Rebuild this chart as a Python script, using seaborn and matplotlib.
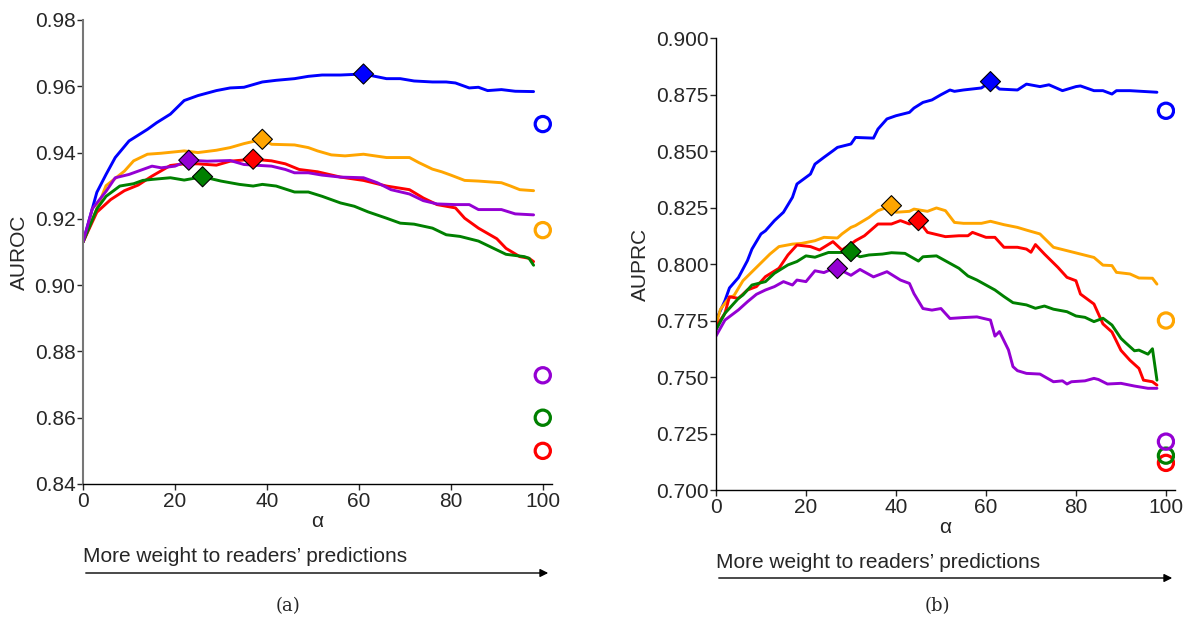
import matplotlib
matplotlib.use("Agg")
import matplotlib.pyplot as plt
import seaborn as sns
import pandas as pd

# ---------------- data: panel (a) AUROC ----------------
blue_a_x = [0,3,5,7,10,14,16,19,22,25,29,32,35,39,42,46,49,52,56,61,66,69,72,76,79,81,84,86,88,91,94,98]
blue_a_y = [0.913,0.928,0.9334,0.9385,0.9435,0.947,0.949,0.9516,0.9557,0.9572,0.9587,0.9595,0.9597,0.9613,0.9618,0.9623,0.963,0.9634,0.9634,0.9637,0.9623,0.9623,0.9616,0.9613,0.9613,0.961,0.9595,0.9597,0.9587,0.959,0.9585,0.9584]
orange_a_x = [0,3,5,9,11,14,17,22,25,29,32,35,39,41,46,49,51,54,57,61,66,71,73,76,78,80,83,86,91,93,95,98]
orange_a_y = [0.913,0.923,0.930,0.9344,0.9375,0.9395,0.9398,0.9405,0.940,0.9407,0.9415,0.9427,0.944,0.9425,0.9423,0.9415,0.9405,0.9393,0.939,0.9395,0.9385,0.9385,0.937,0.935,0.9342,0.9332,0.9316,0.9314,0.9309,0.9299,0.9288,0.9285]
red_a_x = [0,3,6,9,12,15,19,22,25,29,32,37,41,44,47,51,56,61,66,71,74,77,81,83,86,90,92,95,97,98]
red_a_y = [0.913,0.922,0.9258,0.9285,0.9302,0.9329,0.9361,0.9366,0.9366,0.9362,0.9374,0.938,0.9375,0.9366,0.9349,0.9342,0.9326,0.9316,0.9299,0.9288,0.9263,0.9243,0.9233,0.9202,0.9172,0.914,0.9111,0.9086,0.9081,0.9071]
purple_a_x = [0,2,5,7,10,15,17,20,23,27,32,35,41,44,46,49,52,56,61,64,67,71,74,77,81,84,86,91,94,98]
purple_a_y = [0.913,0.923,0.9283,0.9324,0.9334,0.9359,0.9354,0.9359,0.9377,0.9374,0.9376,0.9364,0.9359,0.9349,0.9339,0.9339,0.9332,0.9326,0.9324,0.9309,0.9288,0.9275,0.9255,0.9245,0.9243,0.9243,0.9228,0.9228,0.9215,0.9212]
green_a_x = [0,3,5,8,11,13,15,19,22,26,30,34,37,39,42,46,49,52,56,59,62,66,69,72,76,79,82,86,89,92,96,97,98]
green_a_y = [0.913,0.923,0.9268,0.9299,0.9306,0.9316,0.9319,0.9324,0.9317,0.9327,0.9314,0.9304,0.9299,0.9304,0.9299,0.9281,0.9281,0.9268,0.9248,0.9238,0.9221,0.9202,0.9187,0.9184,0.9172,0.9152,0.9147,0.9133,0.9113,0.9093,0.9086,0.9081,0.906]

series_names = ["blue", "orange", "red", "green", "purple"]
peak_a_x = [61, 39, 37, 26, 23]
peak_a_y = [0.9637, 0.944, 0.938, 0.9327, 0.9377]
reader_a_y = [0.9486, 0.9166, 0.850, 0.860, 0.8728]

# ---------------- data: panel (b) AUPRC ----------------
blue_b_x = [0,2,3,5,7,8,10,11,13,15,17,18,21,22,24,26,27,30,31,35,36,38,40,43,44,46,48,50,52,53,55,59,61,63,67,69,72,74,77,80,81,84,86,88,89,92,98]
blue_b_y = [0.775,0.7838,0.7894,0.794,0.8015,0.8066,0.8133,0.8147,0.8192,0.8229,0.8295,0.8354,0.8398,0.8442,0.8472,0.8501,0.8516,0.8531,0.856,0.8557,0.8597,0.8642,0.8656,0.8671,0.869,0.8715,0.8726,0.8749,0.877,0.8764,0.877,0.8779,0.8807,0.8774,0.877,0.8796,0.8785,0.8793,0.8767,0.8785,0.8788,0.8767,0.8767,0.8752,0.8767,0.8767,0.876]
orange_b_x = [0,1,3,4,6,9,12,14,17,19,22,24,27,28,30,31,34,36,39,40,43,44,47,49,51,53,55,59,61,64,67,69,72,75,78,81,84,86,88,89,92,94,97,98]
orange_b_y = [0.773,0.78,0.7852,0.786,0.7926,0.7985,0.8044,0.8077,0.8088,0.8091,0.8103,0.8118,0.8115,0.8133,0.8162,0.817,0.8206,0.8236,0.8258,0.8229,0.8233,0.8243,0.8233,0.8248,0.8236,0.8184,0.818,0.818,0.8189,0.8174,0.8162,0.815,0.8133,0.8074,0.8059,0.8044,0.8029,0.7995,0.7993,0.7963,0.7956,0.7938,0.7937,0.7911]
red_b_x = [0,2,3,5,7,9,11,14,16,18,21,23,26,28,30,31,33,36,39,41,43,45,47,51,54,56,57,60,62,64,67,69,70,71,73,76,78,80,81,84,86,88,90,92,94,95,97,98]
red_b_y = [0.7722,0.7782,0.7855,0.7848,0.7885,0.79,0.7944,0.7981,0.804,0.8084,0.8077,0.8062,0.8099,0.8062,0.8088,0.8103,0.8125,0.8177,0.8177,0.8192,0.8177,0.8192,0.814,0.8121,0.8125,0.8125,0.814,0.8118,0.8118,0.8074,0.8074,0.8066,0.8052,0.8086,0.8044,0.7985,0.7941,0.7926,0.7867,0.7823,0.7735,0.7699,0.7618,0.7574,0.7538,0.7486,0.7479,0.7464]
green_b_x = [0,2,5,6,8,11,13,16,18,20,22,25,28,30,32,34,37,39,42,45,46,49,52,54,56,58,62,64,66,69,71,73,75,78,80,82,84,86,88,90,91,93,94,96,97,98]
green_b_y = [0.7708,0.7782,0.7848,0.7863,0.7907,0.7922,0.7959,0.7996,0.8011,0.8036,0.803,0.8051,0.8051,0.8055,0.8032,0.804,0.8044,0.805,0.8047,0.8013,0.8032,0.8036,0.8003,0.7981,0.7947,0.7929,0.7885,0.7856,0.7829,0.7819,0.7804,0.7814,0.78,0.7789,0.777,0.7764,0.7745,0.776,0.773,0.7671,0.7652,0.7616,0.7619,0.7601,0.7625,0.7486]
purple_b_x = [0,2,5,7,9,11,13,15,17,18,20,22,24,26,27,30,32,35,38,41,43,44,46,48,50,52,55,58,61,62,63,65,66,67,69,72,75,77,78,79,82,84,85,87,90,93,96,98]
purple_b_y = [0.7681,0.7752,0.7797,0.7833,0.7866,0.7885,0.79,0.7922,0.7907,0.7929,0.7922,0.797,0.7962,0.798,0.798,0.795,0.7976,0.7943,0.7966,0.7929,0.7914,0.7869,0.7803,0.7796,0.7803,0.7759,0.7763,0.7766,0.7752,0.7681,0.7701,0.762,0.7546,0.7528,0.7516,0.7513,0.7479,0.7483,0.7469,0.7479,0.7483,0.7494,0.7489,0.7469,0.7472,0.746,0.745,0.745]

peak_b_x = [61, 39, 45, 30, 27]
peak_b_y = [0.8807, 0.8258, 0.8192, 0.8055, 0.798]
reader_b_y = [0.8678, 0.775, 0.712, 0.7152, 0.7214]

reader_alpha = 100
x_ticks = [0, 20, 40, 60, 80, 100]
y_ticks_a = [0.84, 0.86, 0.88, 0.90, 0.92, 0.94, 0.96, 0.98]
y_ticks_b = [0.700, 0.725, 0.750, 0.775, 0.800, 0.825, 0.850, 0.875, 0.900]

colors = {"blue": "#0000FF", "orange": "#FFA500", "red": "#FF0000",
          "green": "#008000", "purple": "#9400D3"}

# ---------------- style ----------------
sns.set_style("ticks")
plt.rcParams["font.family"] = ["Liberation Sans", "DejaVu Sans"]
FS = 15

fig = plt.figure(figsize=(11.83, 6.19), dpi=100)
ax_a = fig.add_axes([0.0702, 0.2181, 0.3964, 0.7496])
ax_b = fig.add_axes([0.6052, 0.2084, 0.3880, 0.7302])

def long_df(xs, ys):
    rows = []
    for name, x, y in zip(series_names, xs, ys):
        for xi, yi in zip(x, y):
            rows.append((name, xi, yi))
    return pd.DataFrame(rows, columns=["series", "alpha", "value"])

df_a = long_df([blue_a_x, orange_a_x, red_a_x, green_a_x, purple_a_x],
               [blue_a_y, orange_a_y, red_a_y, green_a_y, purple_a_y])
df_b = long_df([blue_b_x, orange_b_x, red_b_x, green_b_x, purple_b_x],
               [blue_b_y, orange_b_y, red_b_y, green_b_y, purple_b_y])

def draw(ax, df, peak_x, peak_y, reader_y, ylim, yticks, ylabel, yfmt):
    sns.lineplot(data=df, x="alpha", y="value", hue="series", palette=colors,
                 hue_order=series_names, ax=ax, linewidth=2.1, legend=False,
                 estimator=None, sort=True)
    pk = pd.DataFrame({"series": series_names, "alpha": peak_x, "value": peak_y})
    sns.scatterplot(data=pk, x="alpha", y="value", hue="series", palette=colors,
                    hue_order=series_names, marker="D", s=105, edgecolor="black",
                    linewidth=0.8, ax=ax, legend=False, zorder=5)
    rd = pd.DataFrame({"series": series_names, "alpha": [reader_alpha] * 5, "value": reader_y})
    for _, r in rd.iterrows():
        ax.scatter(r["alpha"], r["value"], s=120, facecolors="none",
                   edgecolors=colors[r["series"]], linewidths=2.3, zorder=5)
    ax.set_xlim(0, 102)
    ax.set_ylim(*ylim)
    ax.set_xticks(x_ticks)
    ax.set_yticks(yticks)
    ax.set_yticklabels([yfmt.format(v) for v in yticks])
    ax.tick_params(axis="both", labelsize=FS, direction="out", length=4, width=1, pad=1.5)
    ax.set_xlabel("α", fontsize=FS, labelpad=1)
    ax.set_ylabel(ylabel, fontsize=FS, labelpad=4)
    for side in ["top", "right"]:
        ax.spines[side].set_visible(False)
    for side in ["left", "bottom"]:
        ax.spines[side].set_linewidth(1.0)
        ax.spines[side].set_color("black")

draw(ax_a, df_a, peak_a_x, peak_a_y, reader_a_y, (0.84, 0.98), y_ticks_a, "AUROC", "{:.2f}")
draw(ax_b, df_b, peak_b_x, peak_b_y, reader_b_y, (0.700, 0.900), y_ticks_b, "AUPRC", "{:.3f}")
ax_a.spines["left"].set_color("#777777")
ax_a.spines["left"].set_linewidth(1.5)

# arrows and annotation text
def px(x):
    return x / 1183.0
def py(y):
    return 1 - y / 619.0

fig.text(px(83), py(557), "More weight to readers\u2019 predictions", fontsize=FS,
         ha="left", va="center")
fig.add_artist(matplotlib.patches.FancyArrowPatch((px(83), py(573)), (px(551), py(573)),
               transform=fig.transFigure, arrowstyle="-|>", mutation_scale=12,
               color="black", linewidth=1.0))
fig.text(px(716), py(563), "More weight to readers\u2019 predictions", fontsize=FS,
         ha="left", va="center")
fig.add_artist(matplotlib.patches.FancyArrowPatch((px(716), py(578)), (px(1175), py(578)),
               transform=fig.transFigure, arrowstyle="-|>", mutation_scale=12,
               color="black", linewidth=1.0))

fig.text(px(288), py(606), "(a)", fontsize=13, ha="center", va="center",
         family=["DejaVu Serif"])
fig.text(px(937), py(606), "(b)", fontsize=13, ha="center", va="center",
         family=["DejaVu Serif"])

fig.savefig("out.png", dpi=100)
